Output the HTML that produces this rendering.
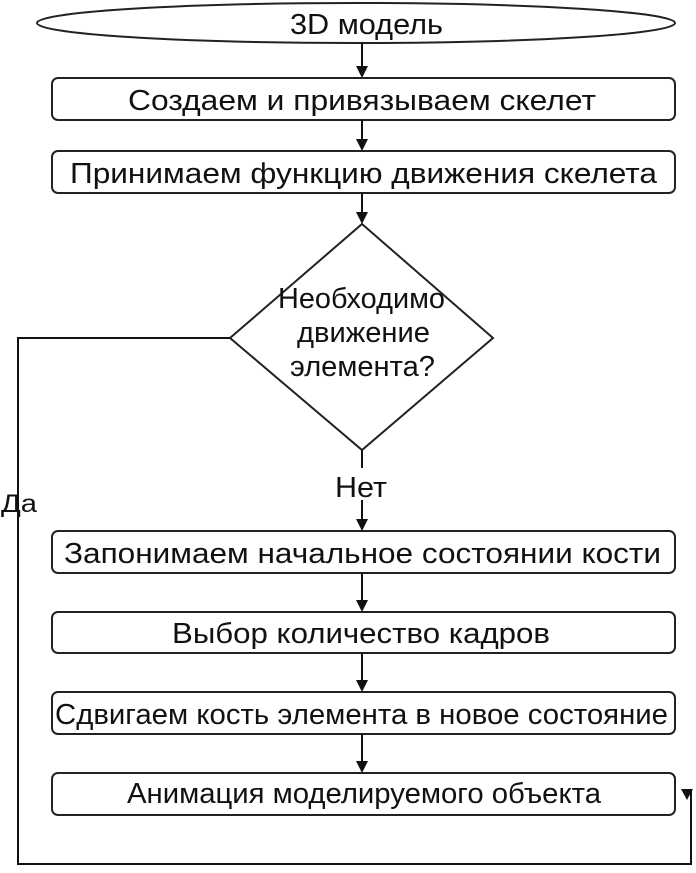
<!DOCTYPE html>
<html><head><meta charset="utf-8"><style>
body{margin:0;background:#fff}
svg text{font-family:"Liberation Sans",sans-serif;fill:#111;font-size:29px}
</style></head><body>
<svg width="696" height="868" viewBox="0 0 696 868">
<g fill="#fff" stroke="#222" stroke-width="2">
<ellipse cx="356" cy="23" rx="319" ry="20"/>
<rect x="52" y="78" width="623" height="42" rx="6"/>
<rect x="52" y="151" width="623" height="42" rx="6"/>
<polygon points="362,224 493,338 362,450 230,338"/>
<rect x="52" y="531" width="623" height="42" rx="6"/>
<rect x="52" y="612" width="623" height="41" rx="6"/>
<rect x="52" y="692" width="623" height="42" rx="6"/>
<rect x="52" y="773" width="623" height="42" rx="6"/>
</g>
<g stroke="#111" stroke-width="2" fill="none">
<line x1="362" y1="43" x2="362" y2="68"/>
<line x1="362" y1="120" x2="362" y2="141"/>
<line x1="362" y1="193" x2="362" y2="214"/>
<line x1="362" y1="450" x2="362" y2="468"/>
<line x1="362" y1="500" x2="362" y2="521"/>
<line x1="362" y1="573" x2="362" y2="602"/>
<line x1="362" y1="653" x2="362" y2="682"/>
<line x1="362" y1="734" x2="362" y2="763"/>
<polyline points="230,338 18,338 18,864 691,864 691,790"/>
</g>
<g fill="#111">
<path d="M356,66 L368,66 L362,78 Z"/>
<path d="M356,139 L368,139 L362,151 Z"/>
<path d="M356,212 L368,212 L362,224 Z"/>
<path d="M356,519 L368,519 L362,531 Z"/>
<path d="M356,600 L368,600 L362,612 Z"/>
<path d="M356,680 L368,680 L362,692 Z"/>
<path d="M356,761 L368,761 L362,773 Z"/>
<path d="M681,789 L693,789 L687,800 Z"/>
</g>
<g lengthAdjust="spacingAndGlyphs">
<text x="290" y="34" textLength="153" lengthAdjust="spacingAndGlyphs">3D модель</text>
<text x="128" y="110" textLength="468" lengthAdjust="spacingAndGlyphs">Создаем и привязываем скелет</text>
<text x="70" y="183" textLength="587" lengthAdjust="spacingAndGlyphs">Принимаем функцию движения скелета</text>
<text x="278" y="308" textLength="167" lengthAdjust="spacingAndGlyphs">Необходимо</text>
<text x="297" y="342" textLength="133" lengthAdjust="spacingAndGlyphs">движение</text>
<text x="290" y="376" textLength="145" lengthAdjust="spacingAndGlyphs">элемента?</text>
<text x="335" y="497" textLength="52" lengthAdjust="spacingAndGlyphs">Нет</text>
<text x="64" y="563" textLength="597" lengthAdjust="spacingAndGlyphs">Запонимаем начальное состоянии кости</text>
<text x="172" y="643" textLength="378" lengthAdjust="spacingAndGlyphs">Выбор количество кадров</text>
<text x="55" y="724" textLength="613" lengthAdjust="spacingAndGlyphs">Сдвигаем кость элемента в новое состояние</text>
<text x="127" y="803" textLength="474" lengthAdjust="spacingAndGlyphs">Анимация моделируемого объекта</text>
<text x="1" y="512" textLength="36" lengthAdjust="spacingAndGlyphs" style="font-size:25px">Да</text>
</g>
</svg>
</body></html>
